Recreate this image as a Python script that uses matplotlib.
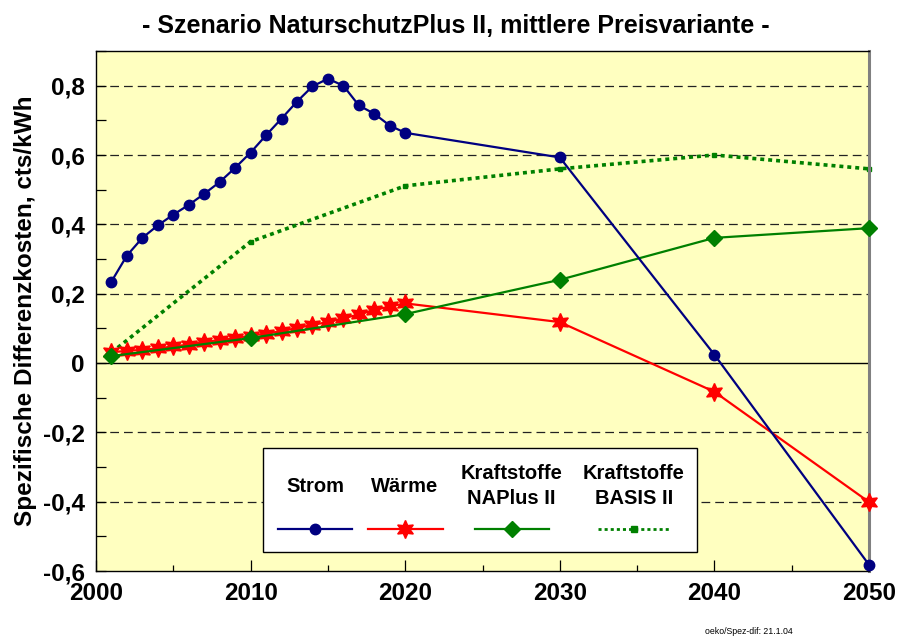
import matplotlib
matplotlib.use("Agg")
import matplotlib.pyplot as plt
from matplotlib.lines import Line2D
from matplotlib.patches import Rectangle
from matplotlib.ticker import MultipleLocator, FuncFormatter

plt.rcParams['font.family'] = ['Liberation Sans', 'DejaVu Sans']

# ---- data ----
years_annual = list(range(2001, 2021)) + [2030, 2040, 2050]
strom = [0.235, 0.310, 0.361, 0.397, 0.428, 0.456, 0.488, 0.522, 0.563, 0.607,
         0.657, 0.705, 0.754, 0.798, 0.820, 0.800, 0.743, 0.719, 0.685, 0.664,
         0.593, 0.024, -0.582]
waerme = [0.031, 0.035, 0.038, 0.042, 0.048, 0.053, 0.061, 0.066, 0.072, 0.079,
          0.085, 0.092, 0.101, 0.110, 0.118, 0.129, 0.140, 0.153, 0.163, 0.172,
          0.118, -0.083, -0.401]
years_kraft = [2001, 2010, 2020, 2030, 2040, 2050]
kraft_naplus = [0.020, 0.072, 0.141, 0.240, 0.361, 0.389]
kraft_basis = [0.030, 0.350, 0.511, 0.560, 0.600, 0.560]

series_labels = ["Strom", "Wärme", "Kraftstoffe\nNAPlus II", "Kraftstoffe\nBASIS II"]
y_ticks = [-0.6, -0.4, -0.2, 0, 0.2, 0.4, 0.6, 0.8]
x_ticks = [2000, 2010, 2020, 2030, 2040, 2050]

title = "- Szenario NaturschutzPlus II, mittlere Preisvariante -"
ylabel = "Spezifische Differenzkosten, cts/kWh"
footnote = "oeko/Spez-dif: 21.1.04"

# ---- styles ----
NAVY = "#000080"
RED = "#FF0000"
GREEN = "#008000"
BG = "#FFFFC0"
star6 = (6, 1, 0)

fig = plt.figure(figsize=(8.98, 6.36), dpi=100)
ax = fig.add_axes([96/898, 1-571/636, 773/898, 520/636])
ax.set_facecolor(BG)
ax.set_xlim(2000, 2050)
ax.set_ylim(-0.6, 0.9)

# grid lines
for v in y_ticks:
    if v == 0:
        ax.axhline(0, color="black", lw=1.0, zorder=1)
    elif v > -0.6:
        ax.axhline(v, color="#222222", lw=0.9, dashes=(7, 4), zorder=1)

ax.plot(years_annual, strom, color=NAVY, lw=1.6, marker="o", ms=7.5,
        mfc=NAVY, mec=NAVY, zorder=4, clip_on=False)
ax.plot(years_annual, waerme, color=RED, lw=1.6, marker=star6, ms=13,
        mfc=RED, mec=RED, zorder=3, clip_on=False)
ax.plot(years_kraft, kraft_naplus, color=GREEN, lw=1.6, marker="D", ms=8,
        mfc=GREEN, mec=GREEN, zorder=3, clip_on=False)
ax.plot(years_kraft, kraft_basis, color=GREEN, lw=2.6, dashes=(1.1, 1.1),
        marker="s", ms=3.5, mfc=GREEN, mec=GREEN, zorder=2, clip_on=False)

# ticks
ax.set_yticks(y_ticks)
ax.yaxis.set_minor_locator(MultipleLocator(0.1))
ax.set_xticks(x_ticks)
ax.xaxis.set_minor_locator(MultipleLocator(5))
ax.yaxis.set_major_formatter(FuncFormatter(
    lambda v, p: "0" if abs(v) < 1e-9 else f"{v:.1f}".replace(".", ",")))
ax.tick_params(axis="y", which="both", direction="in", length=7, width=0.9,
               pad=8, labelsize=17.5)
ax.tick_params(axis="x", which="major", direction="in", length=8, width=0.9,
               pad=8, labelsize=17.5)
ax.tick_params(axis="x", which="minor", direction="in", length=4, width=0.9)
for lab in ax.get_xticklabels() + ax.get_yticklabels():
    lab.set_fontweight("bold")

for s in ["left", "top", "bottom"]:
    ax.spines[s].set_color("black")
    ax.spines[s].set_linewidth(1.0)
ax.spines["right"].set_color("#808080")
ax.spines["right"].set_linewidth(2.2)

ax.set_ylabel(ylabel, fontsize=17.5, fontweight="bold")
ax.yaxis.set_label_coords((37-96)/773, 0.5)

fig.text(456/898, 1-26/636, title, ha="center", va="center", fontsize=18,
         fontweight="bold")
fig.text(705/898, 1-631/636, footnote, ha="left", va="center", fontsize=6.3)

# ---- legend (custom, labels above handles) ----
tr = ax.transAxes
ax.add_patch(Rectangle((0.216, 0.0365), 0.7775-0.216, 0.2, transform=tr,
                       facecolor="white", edgecolor="black", lw=1.0, zorder=6))
leg_cx = [0.2833, 0.3997, 0.5378, 0.696]
leg_x0 = [0.2355, 0.3519, 0.4903, 0.6494]
leg_x1 = [0.3312, 0.4489, 0.5860, 0.7426]
leg_styles = [
    dict(color=NAVY, lw=1.6, marker="o", ms=7.5, mfc=NAVY, mec=NAVY),
    dict(color=RED, lw=1.6, marker=star6, ms=13, mfc=RED, mec=RED),
    dict(color=GREEN, lw=1.6, marker="D", ms=8, mfc=GREEN, mec=GREEN),
    dict(color=GREEN, lw=2.0, dashes=(1.1, 1.1), marker="s", ms=4,
         mfc=GREEN, mec=GREEN),
]
hy = (571-529)/520
ty = (571-486)/520
for lab, cx, x0, x1, st in zip(series_labels, leg_cx, leg_x0, leg_x1, leg_styles):
    ax.text(cx, ty, lab, transform=tr, ha="center", va="center",
            fontsize=14.5, fontweight="bold", zorder=7, linespacing=1.45)
    st_line = {k: v for k, v in st.items() if k not in ("marker", "ms", "mfc", "mec")}
    ax.add_line(Line2D([x0, x1], [hy, hy], transform=tr, zorder=7, **st_line))
    ax.add_line(Line2D([cx], [hy], transform=tr, zorder=8, ls="none",
                       marker=st["marker"], ms=st["ms"], mfc=st["mfc"],
                       mec=st["mec"]))

fig.savefig("out.png", dpi=100)
